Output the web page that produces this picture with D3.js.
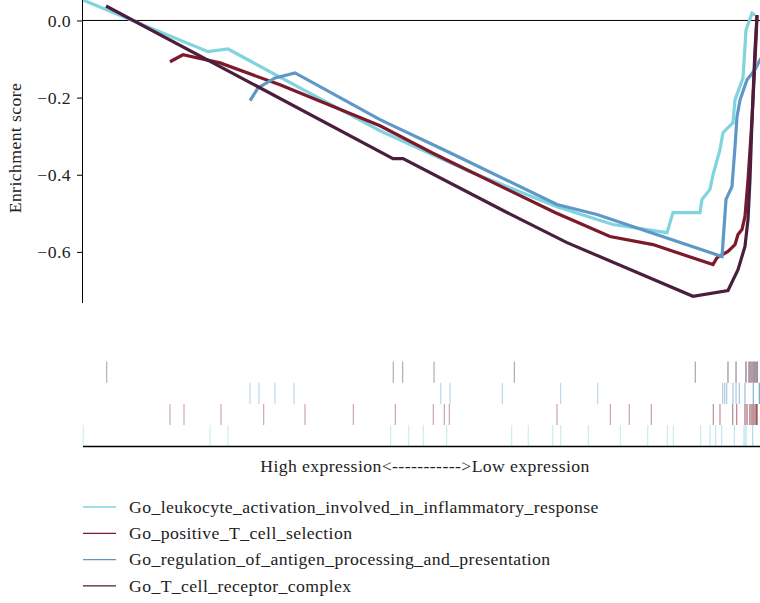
<!DOCTYPE html>
<html>
<head>
<meta charset="utf-8">
<script src="https://cdn.jsdelivr.net/npm/d3@7"></script>
<style>
  body { margin: 0; background: #fff; }
  svg { display: block; }
  svg text { font-family: "Liberation Serif", "DejaVu Serif", serif; letter-spacing: 0.4px; }
</style>
</head>
<body>
<svg id="chart"></svg>
<script>
// GSEA multi-set running enrichment score plot

const width = 760;
const height = 603;
const serif = "Liberation Serif";
const fontSize = 17.7;

const svg = d3.select("#chart").attr("width", width).attr("height", height);

// gene sets, in legend order
const setNames = [
    "Go_leukocyte_activation_involved_in_inflammatory_response",
    "Go_positive_T_cell_selection",
    "Go_regulation_of_antigen_processing_and_presentation",
    "Go_T_cell_receptor_complex"
];
const setColors = ["#80d4de", "#7c1a2b", "#5f98c6", "#4a1e3c"];

// running enrichment score: [rank position (0-100), ES]
const esLeukocyte = [
    [0, 0.053], [18.46, -0.081], [21.42, -0.074], [32.05, -0.175], [43.87, -0.286],
    [57.16, -0.392], [70.01, -0.483], [78.29, -0.529], [86.26, -0.550], [87.15, -0.498],
    [91.14, -0.498], [91.43, -0.464], [92.61, -0.438], [93.06, -0.400], [94.09, -0.335],
    [94.53, -0.291], [96.01, -0.265], [96.31, -0.206], [97.49, -0.149], [97.93, -0.025],
    [98.82, 0.019], [99.26, 0.014]
];
const esPositiveT = [
    [12.85, -0.107], [14.77, -0.089], [20.24, -0.110], [29.10, -0.167], [43.87, -0.273],
    [51.55, -0.343], [69.72, -0.498], [77.84, -0.560], [84.19, -0.581], [93.06, -0.633],
    [93.65, -0.615], [95.27, -0.599], [96.31, -0.581], [96.75, -0.555], [97.34, -0.542],
    [97.78, -0.508], [98.23, -0.413], [98.82, -0.257], [99.41, -0.050], [99.56, 0.014]
];
const esAntigen = [
    [24.67, -0.208], [25.85, -0.175], [28.36, -0.149], [31.32, -0.136], [43.87, -0.257],
    [54.21, -0.343], [70.01, -0.477], [75.92, -0.503], [94.39, -0.612], [94.98, -0.464],
    [95.86, -0.431], [96.31, -0.327], [96.60, -0.250], [97.05, -0.206], [98.08, -0.154],
    [99.26, -0.128], [100, -0.102], [101, -0.080]
];
const esTCellReceptor = [
    [3.40, 0.0375], [45.79, -0.358], [47.27, -0.358], [62.63, -0.498],
    [71.49, -0.576], [90.10, -0.715], [95.27, -0.700], [96.75, -0.646], [97.78, -0.586],
    [98.23, -0.516], [98.52, -0.413], [98.82, -0.257], [99.26, -0.076], [99.56, 0.014]
];
const esSeries = [esLeukocyte, esPositiveT, esAntigen, esTCellReceptor];

// hit positions of each set's genes in the ranked list (0-100)
const hitsLeukocyte = [0.04, 18.76, 21.42, 45.45, 48.11, 50.27, 53.72, 63.32, 65.77, 69.38,
    70.56, 74.64, 79.37, 83.41, 86.31, 87.19, 91.24, 92.61, 93.46, 94.34, 96.20, 97.64,
    97.93, 98.92];
const hitsPositiveT = [12.85, 14.92, 20.38, 26.69, 32.79, 39.93, 46.13, 51.74, 53.37, 54.11,
    70.01, 77.89, 80.69, 83.94, 93.10, 94.09, 95.97, 96.56, 97.78, 98.08, 98.52, 98.82,
    99.11, 99.41, 99.56];
const hitsAntigen = [24.67, 26.00, 28.36, 31.17, 52.84, 54.21, 61.94, 70.56, 76.03, 94.49,
    94.79, 95.08, 96.01, 96.46, 96.94, 97.78, 99.01, 99.90];
const hitsTCellReceptor = [3.50, 45.83, 47.22, 51.85, 63.71, 90.44, 95.27, 96.46, 97.93,
    98.38, 98.67, 98.97, 99.26, 99.56];
const hitSeries = [hitsLeukocyte, hitsPositiveT, hitsAntigen, hitsTCellReceptor];
// rug rows from top to bottom
const rugOrder = [3, 2, 1, 0];

const yTicks = [0, -0.2, -0.4, -0.6];
const xLabel = "High expression<----------->Low expression";

const left = 83, right = 760;

const x = d3.scaleLinear().domain([0, 100]).range([left, right]);
const y = d3.scaleLinear().domain([-0.7325, 0.053]).range([303, 0]);

// clip region for curves
svg.append("defs").append("clipPath").attr("id", "plotClip")
    .append("rect").attr("x", left).attr("y", 0).attr("width", right - left).attr("height", 303);

// zero line
svg.append("line")
    .attr("x1", left).attr("x2", right)
    .attr("y1", y(0)).attr("y2", y(0))
    .attr("stroke", "#000").attr("stroke-width", 1);

// y axis
const yAxis = svg.append("g")
    .attr("transform", `translate(${left},0)`)
    .call(d3.axisLeft(y).tickValues(yTicks).tickSize(6).tickPadding(6)
        .tickFormat(d => d3.format(".1f")(d).replace("-", "\u2212")));
yAxis.attr("font-family", serif).attr("font-size", fontSize);
yAxis.select(".domain").attr("d", `M-0.5,0V303`).attr("stroke", "#000");
yAxis.selectAll("line").attr("stroke", "#000");
yAxis.selectAll("text").attr("fill", "#222");

svg.append("text")
    .attr("transform", "translate(21,148) rotate(-90)")
    .attr("text-anchor", "middle")
    .attr("fill", "#222")
    .attr("font-family", serif)
    .attr("font-size", fontSize)
    .text("Enrichment score");

// ES curves
const line = d3.line().x(d => x(d[0])).y(d => y(d[1]));
const curves = svg.append("g").attr("clip-path", "url(#plotClip)");
esSeries.forEach((s, i) => {
    curves.append("path")
        .datum(s)
        .attr("d", line)
        .attr("fill", "none")
        .attr("stroke", setColors[i])
        .attr("stroke-width", 3.2)
        .attr("stroke-linejoin", "miter");
});

// rug of hits
const rugTop = 361.5, rugRow = 21.2;
const hitOpacity = d3.scaleLinear().domain([0, 90, 97, 100]).range([0.4, 0.45, 0.6, 0.95]).clamp(true);
const rug = svg.append("g");
rugOrder.forEach((si, row) => {
    rug.selectAll(null)
        .data(hitSeries[si])
        .enter().append("line")
        .attr("x1", d => x(d)).attr("x2", d => x(d))
        .attr("y1", rugTop + row * rugRow)
        .attr("y2", rugTop + (row + 1) * rugRow)
        .attr("stroke", setColors[si])
        .attr("stroke-opacity", d => hitOpacity(d))
        .attr("stroke-width", 1.1);
});
svg.append("line")
    .attr("x1", left).attr("x2", right)
    .attr("y1", 446.5).attr("y2", 446.5)
    .attr("stroke", "#000").attr("stroke-width", 1.5);

svg.append("text")
    .attr("x", 425).attr("y", 471.5)
    .attr("text-anchor", "middle")
    .attr("fill", "#222")
    .attr("font-family", serif)
    .attr("font-size", fontSize)
    .text(xLabel);

// legend
const legend = svg.append("g");
setNames.forEach((name, i) => {
    const ly = 507 + i * 26.3;
    legend.append("line")
        .attr("x1", 83).attr("x2", 116)
        .attr("y1", ly).attr("y2", ly)
        .attr("stroke", setColors[i]).attr("stroke-width", 1.3);
    legend.append("text")
        .attr("x", 129).attr("y", ly + 5.8)
        .attr("fill", "#222")
        .attr("font-family", serif)
        .attr("font-size", fontSize)
        .text(name);
});
</script>
</body>
</html>
